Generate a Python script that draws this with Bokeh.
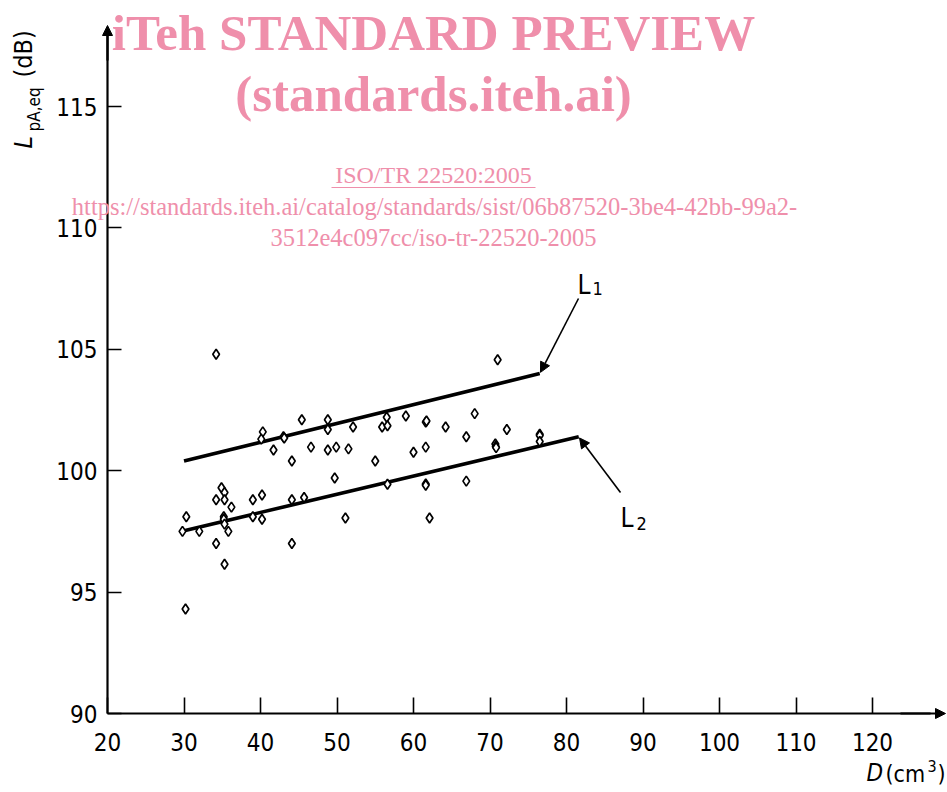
import math
from bokeh.plotting import figure
from bokeh.models import Label, Arrow, NormalHead, Range1d, ColumnDataSource, FixedTicker
from bokeh.embed import file_html
from bokeh.resources import INLINE

# ---- data ----
D_cm3 = [30.2, 30.3, 29.8, 32.0, 34.2, 34.2, 34.2, 34.9, 35.3, 35.3, 35.2, 35.2, 35.3, 35.3,
         35.8, 36.2, 39.0, 39.0, 40.2, 40.2, 40.3, 40.1, 41.7, 43.0, 43.1, 44.1, 44.1, 44.1,
         45.4, 45.7, 46.6, 48.8, 48.8, 48.8, 49.7, 49.9, 51.1, 51.5, 52.1, 55.0, 55.9, 56.5,
         56.6, 56.6, 59.0, 60.0, 61.6, 61.7, 61.6, 61.6, 61.6, 62.1, 64.2, 66.9, 66.9, 68.0,
         70.7, 70.75, 70.8, 71.0, 72.2, 76.5, 76.5, 76.5]
L_pA = [94.3, 98.1, 97.5, 97.5, 104.8, 97.0, 98.8, 99.3, 99.1, 98.8, 98.1, 98.0, 97.8, 96.15,
        97.5, 98.5, 98.8, 98.1, 99.0, 98.0, 101.6, 101.3, 100.85, 101.4, 101.35, 100.4, 98.8, 97.0,
        102.1, 98.9, 100.97, 102.1, 101.7, 100.85, 99.7, 100.97, 98.05, 100.9, 101.8, 100.4, 101.8, 102.2,
        101.85, 99.44, 102.25, 100.76, 102.0, 102.05, 100.97, 99.45, 99.4, 98.05, 101.8, 101.4, 99.57, 102.35,
        101.1, 101.0, 100.95, 104.57, 101.7, 101.5, 101.45, 101.2]

L1_x = [30.0, 76.5]
L1_y = [100.4, 104.0]
L2_x = [29.6, 81.6]
L2_y = [97.5, 101.4]

x_ticks = [20, 30, 40, 50, 60, 70, 80, 90, 100, 110, 120]
y_ticks = [90, 95, 100, 105, 110, 115]

# ---- layout helpers (page pixels -> data) ----
X0, PX_X = 107.0, 7.65   # page x of D=20, px per unit
Y0, PX_Y = 713.0, 24.28  # page y of L=90, px per unit


def px2x(px):
    return 20 + (px - X0) / PX_X


def py2y(py):
    return 90 + (Y0 - py) / PX_Y


W, H = 946, 790

p = figure(width=W, height=H, output_backend="svg", toolbar_location=None,
           x_range=Range1d(px2x(0), px2x(W)), y_range=Range1d(py2y(H), py2y(0)),
           min_border=0, min_border_left=0, min_border_right=0, min_border_top=0,
           min_border_bottom=0)
p.outline_line_color = None
p.grid.visible = False
p.background_fill_color = "white"
p.border_fill_color = "white"

font = "'DejaVu Sans Condensed', 'Roboto Condensed', Roboto"
for ax in (p.xaxis, p.yaxis):
    ax.axis_line_width = 2.2
    ax.axis_line_color = "black"
    ax.major_tick_out = 0
    ax.major_tick_line_width = 1.6
    ax.major_tick_line_color = "black"
    ax.minor_tick_line_color = None
    ax.major_label_text_font = font
    ax.major_label_text_font_size = "24px"
    ax.major_label_text_color = "black"
p.xaxis.ticker = FixedTicker(ticks=x_ticks)
p.yaxis.ticker = FixedTicker(ticks=y_ticks)
p.xaxis.fixed_location = 90
p.yaxis.fixed_location = 20
p.xaxis.bounds = (20, px2x(930))
p.yaxis.bounds = (90, py2y(35))
p.xaxis.major_tick_in = 16
p.yaxis.major_tick_in = 14
p.xaxis.major_label_standoff = 19
p.yaxis.major_label_standoff = 10

# axis arrowheads
p.add_layout(Arrow(end=NormalHead(size=10, fill_color="black", line_color="black", line_width=1),
                   x_start=20, y_start=py2y(60), x_end=20, y_end=py2y(25),
                   line_width=2.2, line_color="black"))
p.add_layout(Arrow(end=NormalHead(size=10, fill_color="black", line_color="black", line_width=1),
                   x_start=px2x(900), y_start=90, x_end=px2x(945), y_end=90,
                   line_width=2.2, line_color="black"))

# regression lines
p.line(L1_x, L1_y, line_width=3.6, line_color="black")
p.line(L2_x, L2_y, line_width=3.6, line_color="black")

# points
src = ColumnDataSource(dict(x=D_cm3, y=L_pA))
p.scatter("x", "y", source=src, marker="diamond", size=10, fill_color="white",
          line_color="black", line_width=1.7)

# pointer arrows
p.add_layout(Arrow(end=NormalHead(size=10, fill_color="black", line_color="black", line_width=1),
                   x_start=px2x(578), y_start=py2y(298), x_end=L1_x[1] + 0.1, y_end=L1_y[1] + 0.05,
                   line_width=1.6, line_color="black"))
p.add_layout(Arrow(end=NormalHead(size=10, fill_color="black", line_color="black", line_width=1),
                   x_start=px2x(620), y_start=py2y(492), x_end=L2_x[1] + 0.1, y_end=L2_y[1] - 0.05,
                   line_width=1.6, line_color="black"))

SHIFT = 0.38  # observed baseline shift of Label text (fraction of font size)


def lab(px, py, text, size, align="left", angle=0.0, style="normal",
        color="black", fnt=font):
    if angle == 0:
        yy = py - SHIFT * size
        xx = px
    else:
        yy = py
        xx = px - SHIFT * size
    p.add_layout(Label(x=px2x(xx), y=py2y(yy), text=text, text_font=fnt,
                       text_font_size=f"{size}px", text_align=align, text_baseline="alphabetic",
                       angle=angle, text_font_style=style, text_color=color))


lab(577, 294, "L", 26)
lab(592, 295, "1", 18)
lab(620, 527, "L", 26)
lab(636, 530, "2", 18)

# axis titles
lab(32, 148, "L", 25, angle=math.pi / 2, style="italic")
lab(40, 131, "pA,eq", 17, angle=math.pi / 2)
lab(32, 77, "(dB)", 25, angle=math.pi / 2)
lab(866, 782, "D", 24, style="italic")
lab(885, 782, "(cm", 23)
lab(927, 772, "3", 16)
lab(937, 782, ")", 23)

# watermark
pink = "#ef8fab"
serif = "Liberation Serif"
lab(433, 52, "iTeh STANDARD PREVIEW", 51, align="center", style="bold", color=pink, fnt=serif)
lab(433, 113, "(standards.iteh.ai)", 51, align="center", style="bold", color=pink, fnt=serif)
lab(433, 184, "ISO/TR 22520:2005", 24, align="center", color=pink, fnt=serif)
p.add_layout(Arrow(end=None, x_start=px2x(331), y_start=py2y(187), x_end=px2x(535), y_end=py2y(187),
                   line_width=1.2, line_color=pink))
lab(434, 215, "https://standards.iteh.ai/catalog/standards/sist/06b87520-3be4-42bb-99a2-", 24.5,
    align="center", color=pink, fnt=serif)
lab(433, 246, "3512e4c097cc/iso-tr-22520-2005", 24.5, align="center", color=pink, fnt=serif)

open("out.html", "w").write(file_html(p, INLINE))
